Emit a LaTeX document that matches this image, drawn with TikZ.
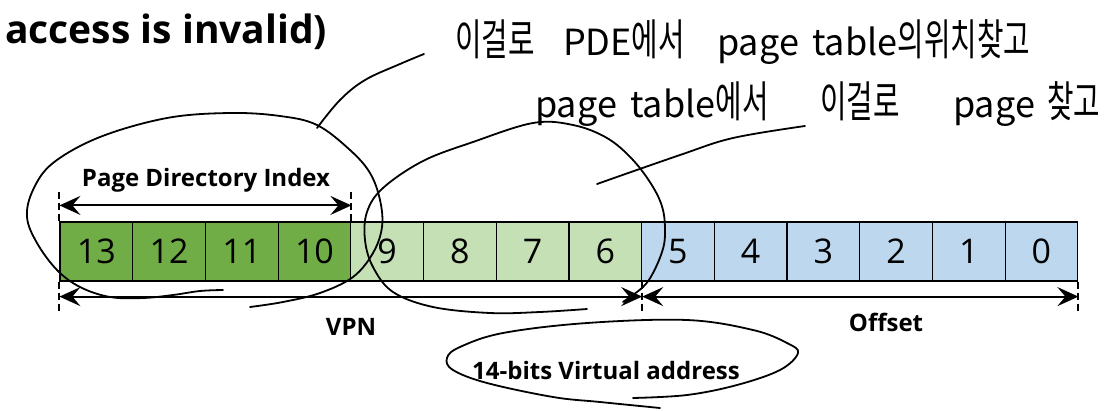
\documentclass[tikz,border=0pt]{standalone}
\usepackage{fontspec}
\usepackage{graphicx}
\setmainfont{Open Sans}
\newfontfamily\hwfont{Noto Sans CJK KR}
\newcommand\krn[1]{\scalebox{0.8}[1.2]{#1}}
\usetikzlibrary{arrows.meta,calc}
\definecolor{dgreen}{HTML}{70AD47}
\definecolor{lgreen}{HTML}{C5E0B4}
\definecolor{lblue}{HTML}{BDD7EE}
\tikzset{
  cell/.style={draw, line width=1.2pt, minimum width=72.7pt, minimum height=59pt, inner sep=0pt,
    font=\fontsize{34}{34}\selectfont},
  dim/.style={line width=2pt, {Stealth[length=21pt,width=19pt,inset=8pt]}-{Stealth[length=21pt,width=19pt,inset=8pt]}},
  tickline/.style={line width=2pt, dash pattern=on 7pt off 4pt},
  lbl/.style={font=\bfseries\fontsize{24}{24}\selectfont, inner sep=0pt},
  hand/.style={line width=1.8pt, line cap=round, line join=round},
  hw/.style={font=\hwfont\fontsize{36}{36}\selectfont, inner sep=0pt, anchor=base west}
}
\begin{document}
\begin{tikzpicture}[x=1pt,y=-1pt]
\useasboundingbox (0,0) rectangle (1109,410);
\fill[white] (0,0) rectangle (1109,410);

% title
\node[font=\bfseries\fontsize{39}{39}\selectfont, inner sep=0pt, anchor=base west] (title) at (5,43) {access is invalid)};

% cells
\foreach \b [count=\i from 0] in {13,12,11,10}
  \node[cell, fill=dgreen] (c\b) at ({60+72.7*\i+36.35},251.5) {\b};
\foreach \b [count=\i from 4] in {9,8,7,6}
  \node[cell, fill=lgreen] (c\b) at ({60+72.7*\i+36.35},251.5) {\b};
\foreach \b [count=\i from 8] in {5,4,3,2,1,0}
  \node[cell, fill=lblue] (c\b) at ({60+72.7*\i+36.35},251.5) {\b};

% dimension coordinates
\coordinate (pdiL) at ($(c13.north west)+(0,-16)$);
\coordinate (pdiR) at ($(c10.north east)+(0,-16)$);
\coordinate (vL) at ($(c13.south west)+(0,15)$);
\coordinate (vR) at ($(c6.south east)+(0,15)$);
\coordinate (oR) at ($(c0.south east)+(0,15)$);

% ticks
\draw[tickline] ($(c13.north west)+(0,-29)$) -- (c13.north west);
\draw[tickline] ($(c10.north east)+(0,-29)$) -- (c10.north east);
\draw[tickline] (c13.south west) -- ++(0,32);
\draw[tickline] (c6.south east) -- ++(0,32);
\draw[tickline] (c0.south east) -- ++(0,32);

% dimension arrows
\draw[dim] (pdiL) -- (pdiR);
\draw[dim] (vL) -- (vR);
\draw[dim] (vR) -- (oR);

% labels
\node[lbl] (pdi) at (206,180) {Page Directory Index};
\node[lbl] (vpn) at (351,327) {VPN};
\node[lbl] (off) at (886,322) {Offset};
\node[lbl] (va) at (606,370) {14-bits Virtual address};

% handwritten notes
\node[hw] (n1a) at (455,55) {\krn{이걸로}};
\node[hw] (n1b) at (563,55) {PDE\krn{에서}};
\node[hw] (n1c) at (717,55) {page};
\node[hw] (n1d) at (812,55) {table\krn{의위치찾고}};
\node[hw] (n2a) at (535,117) {page};
\node[hw] (n2b) at (630,117) {table\krn{에서}};
\node[hw] (n2c) at (820,117) {\krn{이걸로}};
\node[hw] (n2d) at (953,117) {page};
\node[hw] (n2e) at (1047,117) {\krn{찾고}};

% loops
\draw[hand] plot[smooth, tension=0.6] coordinates {(250,307) (283,302) (320,293) (353,277) (373,253) (382,227) (380,200) (370,173) (350,150) (317,125) (280,116) (230,113) (167,118) (100,137) (53,163) (33,190) (27,217) (37,243) (57,270) (80,287) (110,297) (143,298) (173,295) (200,291) (223,290)};
\draw[hand] plot[smooth, tension=0.6] coordinates {(317,128) (340,100) (365,80) (400,64) (424,54)};
\draw[hand] plot[smooth, tension=0.6] coordinates {(587,309) (540,312) (490,313) (433,307) (393,292) (373,267) (365,240) (367,212) (383,188) (423,161) (473,142) (533,123) (573,125) (607,138) (633,160) (653,187) (663,210) (665,235) (662,252) (653,273) (643,287) (623,302)};
\draw[hand] plot[smooth, tension=0.6] coordinates {(597,184) (680,155) (733,138) (805,126)};
\draw[hand] plot[smooth, tension=0.6] coordinates {(660,408) (600,402) (553,397) (487,383) (453,370) (447,358) (460,347) (503,333) (587,323) (687,320) (753,330) (787,343) (798,353) (780,370) (737,385) (687,395) (633,398)};
\end{tikzpicture}
\end{document}
